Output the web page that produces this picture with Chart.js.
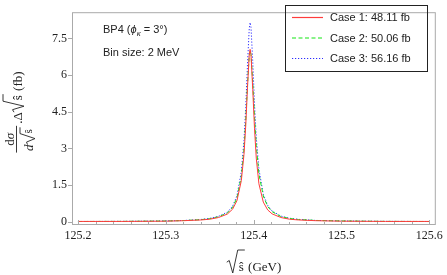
<!DOCTYPE html>
<html>
<head>
<meta charset="utf-8">
<script src="https://cdn.jsdelivr.net/npm/chart.js@4"></script>
<style>
  html, body { margin: 0; padding: 0; background: #fff; }
  #wrap { width: 447px; height: 275px; }
</style>
</head>
<body>
<div id="wrap"><canvas id="chart"></canvas></div>
<script>
// sqrt(s-hat) in GeV, bins around the resonance
const energy = [125.2, 125.25, 125.3, 125.32, 125.34, 125.35, 125.36, 125.37, 125.376, 125.381,
    125.386, 125.389, 125.391, 125.393, 125.395, 125.396, 125.397, 125.399, 125.401, 125.403,
    125.406, 125.411, 125.416, 125.421, 125.431, 125.441, 125.451, 125.471, 125.5, 125.55, 125.6];

const case1 = [0.01, 0.01, 0.02, 0.04, 0.07, 0.10, 0.17, 0.31, 0.51, 0.86,
    1.68, 2.75, 3.92, 5.48, 6.83, 7.05, 6.83, 5.4, 3.8, 2.6,
    1.55, 0.8, 0.48, 0.32, 0.17, 0.1, 0.07, 0.04, 0.02, 0.01, 0.01];
const case2 = [0.007, 0.012, 0.028, 0.045, 0.082, 0.123, 0.2, 0.35, 0.58, 0.97,
    1.85, 2.97, 4.14, 5.6, 6.81, 7.0, 6.85, 5.7, 4.3, 3.1,
    1.95, 1.05, 0.62, 0.41, 0.21, 0.13, 0.09, 0.05, 0.03, 0.012, 0.007];
const case3 = [0.007, 0.013, 0.03, 0.048, 0.09, 0.134, 0.22, 0.39, 0.63, 1.06,
    2.05, 3.32, 4.68, 6.43, 7.91, 8.15, 7.95, 6.55, 4.8, 3.45,
    2.15, 1.12, 0.67, 0.44, 0.23, 0.14, 0.095, 0.05, 0.03, 0.013, 0.007];

const caseLabels = ['Case 1: 48.11 fb', 'Case 2: 50.06 fb', 'Case 3: 56.16 fb'];
const xTicks = [125.2, 125.3, 125.4, 125.5, 125.6];
const yTicks = [0, 1.5, 3, 4.5, 6, 7.5];

const SERIF = '"Liberation Serif", "DejaVu Serif", serif';
const SANS = '"Liberation Sans", Arial, sans-serif';
const colors = ['rgb(255, 60, 60)', 'rgb(20, 230, 20)', 'rgb(45, 45, 255)'];
const dashes = [[], [4, 2.5], [1.2, 1.8]];

function toPoints(ys) {
    return ys.map((y, i) => ({ x: energy[i], y: y }));
}

// radical sign with overline; x = left, base = baseline, h = height above baseline, w = content width
function radical(ctx, x, base, h, w) {
    ctx.beginPath();
    ctx.moveTo(x, base - h * 0.42);
    ctx.lineTo(x + 2.5, base - h * 0.5);
    ctx.lineTo(x + 6, base + 2);
    ctx.lineTo(x + 11, base - h);
    ctx.lineTo(x + 12 + w, base - h);
    ctx.stroke();
    return x + 12;
}

const framePlugin = {
    id: 'frame',
    afterDatasetsDraw(chart) {
        const ctx = chart.ctx;
        const a = chart.chartArea;
        const xs = chart.scales.x, ys = chart.scales.y;
        ctx.save();
        ctx.strokeStyle = '#aaaaaa';
        ctx.lineWidth = 1;
        ctx.strokeRect(a.left + 0.5, a.top + 0.5, a.right - a.left - 1, a.bottom - a.top - 1);
        ctx.beginPath();
        // x ticks, inward from the bottom edge
        for (let v = 125.2; v <= 125.6001; v += 0.02) {
            const px = Math.round(xs.getPixelForValue(v)) + 0.5;
            const major = Math.abs(v * 10 - Math.round(v * 10)) < 1e-6;
            ctx.moveTo(px, a.bottom);
            ctx.lineTo(px, a.bottom - (major ? 5 : 3));
        }
        // y ticks, outward on the left
        yTicks.forEach(v => {
            const py = Math.round(ys.getPixelForValue(v)) + 0.5;
            ctx.moveTo(a.left - 4, py);
            ctx.lineTo(a.left, py);
        });
        ctx.stroke();
        ctx.restore();
    },
    afterDraw(chart) {
        const ctx = chart.ctx;
        ctx.save();
        ctx.fillStyle = '#222';
        ctx.strokeStyle = '#222';
        ctx.textBaseline = 'alphabetic';

        // annotations
        ctx.font = '11px ' + SANS;
        let x = 103;
        ctx.fillText('BP4 (', x, 33);
        x += ctx.measureText('BP4 (').width;
        ctx.font = 'italic 11px ' + SANS;
        ctx.fillText('\u03d5', x, 33);
        x += ctx.measureText('\u03d5').width;
        ctx.font = 'italic 8px ' + SANS;
        ctx.fillText('\u03ba', x, 36);
        x += ctx.measureText('\u03ba').width;
        ctx.font = '11px ' + SANS;
        ctx.fillText(' = 3\u00b0)', x, 33);
        ctx.fillText('Bin size: 2 MeV', 103, 56);

        // legend box
        ctx.lineWidth = 1;
        ctx.strokeStyle = '#222';
        ctx.strokeRect(285.5, 5.5, 142, 66);
        caseLabels.forEach((lab, i) => {
            const y = 17.5 + i * 20.5;
            ctx.save();
            ctx.strokeStyle = colors[i];
            ctx.lineWidth = 1.2;
            ctx.setLineDash(dashes[i]);
            ctx.beginPath();
            ctx.moveTo(292, y);
            ctx.lineTo(323, y);
            ctx.stroke();
            ctx.restore();
            ctx.font = '11px ' + SANS;
            ctx.textBaseline = 'middle';
            ctx.fillText(lab, 330, y + 0.5);
            ctx.textBaseline = 'alphabetic';
        });

        // x axis title: sqrt(s^) (GeV)
        ctx.lineWidth = 0.9;
        ctx.font = '13px ' + SERIF;
        const sw = ctx.measureText('\u015d').width;
        const gev = ' (GeV)';
        const total = 12 + sw + 1 + ctx.measureText(gev).width;
        let tx = 254 - total / 2;
        tx = radical(ctx, tx, 271, 21, sw + 1);
        ctx.fillText('\u015d', tx, 271);
        ctx.fillText(gev, tx + sw + 1, 271);

        // y axis title, rotated: d sigma / d sqrt(s^) . Delta sqrt(s^) (fb)
        ctx.translate(0, 275);
        ctx.rotate(-Math.PI / 2);
        ctx.font = '13px ' + SERIF;
        const wd = ctx.measureText('d').width;
        ctx.font = 'italic 13px ' + SERIF;
        const wsig = ctx.measureText('\u03c3').width;
        const wnum = wd + wsig;
        const wdd = ctx.measureText('d').width;
        ctx.font = '11px ' + SERIF;
        const wss = ctx.measureText('\u015d').width;
        const wden = wdd + 11 + wss + 2;
        const wfrac = Math.max(wnum, wden) + 3;
        ctx.font = '13px ' + SERIF;
        const wdot = ctx.measureText('.\u0394').width;
        const ws = ctx.measureText('\u015d').width;
        const wfb = ctx.measureText(' (fb)').width;
        const full = wfrac + 2 + wdot + 12 + ws + 1 + wfb;
        let u = 163 - full / 2;
        // fraction bar
        ctx.beginPath();
        ctx.moveTo(u, 16.5);
        ctx.lineTo(u + wfrac, 16.5);
        ctx.stroke();
        // numerator
        const nu = u + (wfrac - wnum) / 2;
        ctx.font = '13px ' + SERIF;
        ctx.fillText('d', nu, 13.5);
        ctx.font = 'italic 13px ' + SERIF;
        ctx.fillText('\u03c3', nu + wd, 13.5);
        // denominator
        const du = u + (wfrac - wden) / 2;
        ctx.font = 'italic 13px ' + SERIF;
        ctx.fillText('d', du, 33);
        const ru = radical(ctx, du + wdd, 33, 13, wss + 1);
        ctx.font = '11px ' + SERIF;
        ctx.fillText('\u015d', ru - 1, 32);
        // rest
        u += wfrac + 2;
        ctx.font = '13px ' + SERIF;
        ctx.fillText('.\u0394', u, 22);
        u += wdot;
        u = radical(ctx, u, 22, 19, ws + 1);
        ctx.fillText('\u015d', u, 22);
        u += ws + 1;
        ctx.fillText(' (fb)', u, 22);
        ctx.restore();
    }
};

const ctx = document.getElementById('chart').getContext('2d');
new Chart(ctx, {
    type: 'line',
    data: {
        datasets: [case1, case2, case3].map((ys, i) => ({
            label: caseLabels[i],
            data: toPoints(ys),
            borderColor: colors[i],
            borderWidth: 1,
            borderDash: dashes[i],
            pointRadius: 0,
            tension: 0,
            fill: false
        }))
    },
    options: {
        responsive: true,
        maintainAspectRatio: false,
        devicePixelRatio: 1,
        animation: false,
        layout: { padding: { top: 1, right: 11, left: 0, bottom: 0 } },
        plugins: { legend: { display: false }, tooltip: { enabled: false } },
        scales: {
            x: {
                type: 'linear',
                min: 125.1932,
                max: 125.6074,
                afterBuildTicks: s => { s.ticks = xTicks.map(v => ({ value: v })); },
                afterFit: s => { s.height = 50; },
                grid: { display: false, drawTicks: false },
                border: { display: false },
                ticks: {
                    padding: 4,
                    color: '#222',
                    font: { family: SERIF, size: 12 },
                    maxRotation: 0,
                    callback: v => v.toFixed(1)
                }
            },
            y: {
                min: -0.136,
                max: 8.57,
                afterBuildTicks: s => { s.ticks = yTicks.map(v => ({ value: v })); },
                afterFit: s => { s.width = 72; },
                grid: { display: false, drawTicks: false },
                border: { display: false },
                ticks: {
                    padding: 5,
                    color: '#222',
                    font: { family: SERIF, size: 12 },
                    callback: v => String(v)
                }
            }
        }
    },
    plugins: [framePlugin]
});
</script>
</body>
</html>
